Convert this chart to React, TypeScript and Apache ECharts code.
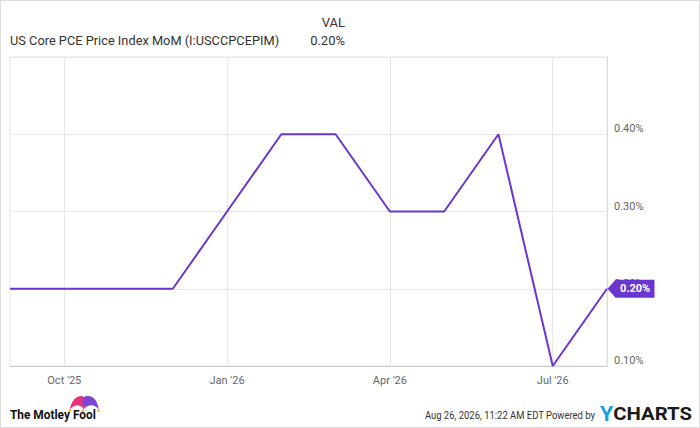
import React, { useEffect, useRef } from "react";
import * as echarts from "echarts";

const months = ["Sep '25", "Oct '25", "Nov '25", "Dec '25", "Jan '26", "Feb '26", "Mar '26", "Apr '26", "May '26", "Jun '26", "Jul '26", "Aug '26"];
const values = [0.2, 0.2, 0.2, 0.2, 0.3, 0.4, 0.4, 0.3, 0.3, 0.4, 0.1, 0.2];
const yMin = 0.1;
const yMax = 0.5;
const yStep = 0.1;
const seriesName = "US Core PCE Price Index MoM (I:USCCPCEPIM)";
const lastValueText = "0.20%";
const stamp = "Aug 26, 2026, 11:22 AM EDT Powered by";

const PURPLE = "#6b35cf";

let registered = false;
function registerShapes() {
  if (registered) return;
  registered = true;
  echarts.graphic.registerShape(
    "hatLeft",
    echarts.graphic.extendPath("M0,14 C1,6 6,0 12,0 C15,0 16,3 15,8 C14,11 14,12 14,14 C11,9 6,8 0,14 Z", {})
  );
  echarts.graphic.registerShape(
    "hatRight",
    echarts.graphic.extendPath("M0,14 C0,12 0,10 -1,7 C-2,2 1,0 5,0 C11,0 15,6 16,14 C11,8 5,9 0,14 Z", {})
  );
}

export default function App() {
  const ref = useRef<HTMLDivElement>(null);
  useEffect(() => {
    document.body.style.margin = "0";
    registerShapes();
    const chart = echarts.init(ref.current!, null, { renderer: "svg" });
    const n = values.length;
    chart.setOption({
      animation: false,
      textStyle: { fontFamily: "Roboto, sans-serif" },
      grid: {
        left: 10,
        right: 93,
        top: 57,
        bottom: 62,
        show: true,
        borderColor: "#e3e3e3",
        borderWidth: 1,
      },
      xAxis: {
        type: "category",
        data: months,
        boundaryGap: false,
        axisLine: { show: true, lineStyle: { color: "#cccccc" } },
        axisTick: { show: false },
        axisLabel: {
          interval: (i: number) => i % 3 === 1,
          color: "#666",
          fontSize: 11,
          margin: 9,
        },
        splitLine: {
          show: true,
          interval: (i: number) => i % 3 === 1,
          lineStyle: { color: "#e8e8e8" },
        },
      },
      yAxis: {
        type: "value",
        position: "right",
        min: yMin,
        max: yMax,
        interval: yStep,
        axisLine: { show: true, lineStyle: { color: "#dddddd" } },
        axisTick: { show: false },
        axisLabel: {
          showMaxLabel: false,
          color: "#666",
          fontSize: 11,
          margin: 7,
          verticalAlign: "bottom",
          formatter: (v: number) => v.toFixed(2) + "%",
        },
        splitLine: { show: true, lineStyle: { color: "#e8e8e8" } },
      },
      series: [
        {
          type: "line",
          name: seriesName,
          data: values,
          showSymbol: false,
          lineStyle: { color: PURPLE, width: 2 },
          itemStyle: { color: PURPLE },
          markPoint: {
            silent: true,
            data: [{ coord: [n - 1, values[n - 1]] }],
            symbol: "path://M0,9 L8,0 L47,0 L47,18 L8,18 Z",
            symbolSize: [47, 18],
            symbolOffset: [24, 0],
            itemStyle: { color: PURPLE },
            label: {
              show: true,
              position: "inside",
              offset: [4, 0],
              color: "#fff",
              fontWeight: "bold",
              fontSize: 11,
              formatter: () => lastValueText,
            },
          },
        },
      ],
      graphic: [
        {
          type: "rect",
          shape: { x: 0.5, y: 0.5, width: 699, height: 427 },
          style: { fill: "none", stroke: "#dddddd", lineWidth: 1 },
          silent: true,
        },
        {
          type: "text",
          x: 10,
          y: 40,
          scaleX: 0.985,
          style: { text: seriesName, fontSize: 13, fill: "#333", textVerticalAlign: "middle", fontFamily: "Roboto" },
        },
        {
          type: "text",
          x: 345,
          y: 22,
          style: { text: "VAL", fontSize: 13, fill: "#333", textAlign: "right", textVerticalAlign: "middle", fontFamily: "Roboto" },
        },
        {
          type: "text",
          x: 345,
          y: 40,
          style: { text: lastValueText, fontSize: 13, fill: "#333", textAlign: "right", textVerticalAlign: "middle", fontFamily: "Roboto" },
        },
        {
          type: "text",
          x: 10,
          y: 415,
          scaleX: 0.95,
          style: { text: "The Motley Fool", fontSize: 12.5, fontWeight: "bold", fill: "#111", textVerticalAlign: "middle", fontFamily: "Roboto" },
        },
        { type: "hatLeft", x: 70, y: 396, scaleX: 0.95, scaleY: 0.95, style: { fill: "#e8317a" } },
        { type: "hatRight", x: 83.5, y: 396, scaleX: 0.95, scaleY: 0.95, style: { fill: "#7b45d6" } },
        { type: "circle", shape: { cx: 70, cy: 410.5, r: 1.4 }, style: { fill: "#f5b51f" } },
        { type: "circle", shape: { cx: 83, cy: 410.5, r: 1.4 }, style: { fill: "#f5b51f" } },
        { type: "circle", shape: { cx: 98.5, cy: 410.5, r: 1.4 }, style: { fill: "#f5b51f" } },
        {
          type: "text",
          x: 595,
          y: 415,
          scaleX: 0.86,
          style: { text: stamp, fontSize: 11, fill: "#333", textAlign: "right", textVerticalAlign: "middle", fontFamily: "Roboto" },
        },
        {
          type: "text",
          x: 600,
          y: 414,
          scaleX: 1.07,
          style: {
            text: "{y|Y}{c|CHARTS}",
            textVerticalAlign: "middle",
            rich: {
              y: { fontSize: 20, fontWeight: "bold", fill: "#1a9fe3", fontFamily: "Roboto" },
              c: { fontSize: 19, fontWeight: "bold", fill: "#1b1b1b", fontFamily: "Roboto" },
            },
          },
        },
      ],
    });
    return () => chart.dispose();
  }, []);
  return <div ref={ref} style={{ width: 700, height: 428 }} />;
}
